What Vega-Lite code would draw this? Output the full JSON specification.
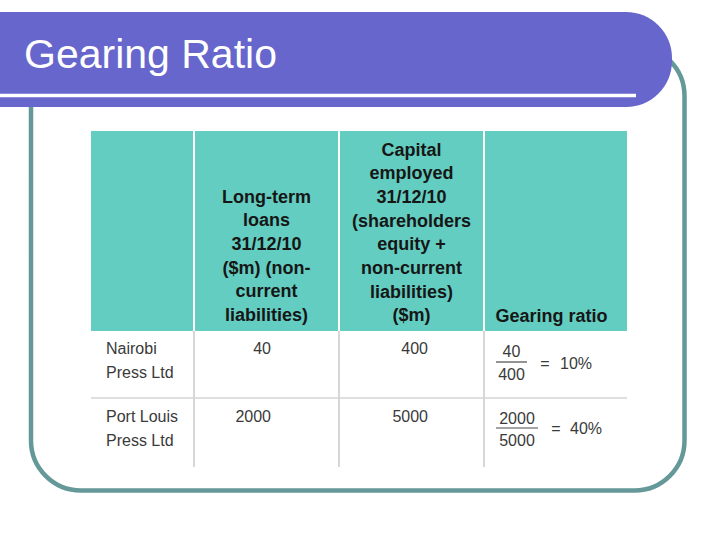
{
  "$schema": "https://vega.github.io/schema/vega-lite/v6.json",
  "width": 720,
  "height": 540,
  "autosize": {"type": "none"},
  "padding": 0,
  "background": "#ffffff",
  "config": {"view": {"stroke": null}},
  "datasets": {
    "companies": [
      {"company": "Nairobi Press Ltd", "label": "Nairobi\nPress Ltd", "loans": 40, "capital": 400, "gearing": 0.1},
      {"company": "Port Louis Press Ltd", "label": "Port Louis\nPress Ltd", "loans": 2000, "capital": 5000, "gearing": 0.4}
    ]
  },
  "resolve": {"scale": {"y": "independent"}},
  "layer": [
    {
      "data": {"values": [{}]},
      "layer": [
        {
          "mark": {"type": "rect", "fill": "#ffffff", "stroke": "#659898", "strokeWidth": 4.5, "cornerRadius": 50},
          "encoding": {
            "x": {"datum": 31, "type": "quantitative", "scale": {"domain": [0, 720], "nice": false, "zero": false}, "axis": null},
            "x2": {"datum": 684.5},
            "y": {"datum": 46, "type": "quantitative", "scale": {"domain": [0, 540], "reverse": true, "nice": false, "zero": false}, "axis": null},
            "y2": {"datum": 490.5}
          }
        },
        {
          "mark": {"type": "rect", "fill": "#6666cc", "cornerRadiusTopLeft": 0, "cornerRadiusBottomLeft": 0, "cornerRadiusTopRight": 46, "cornerRadiusBottomRight": 46},
          "encoding": {
            "x": {"datum": 0, "type": "quantitative", "axis": null},
            "x2": {"datum": 672},
            "y": {"datum": 12, "type": "quantitative", "axis": null},
            "y2": {"datum": 107}
          }
        },
        {
          "mark": {"type": "rule", "stroke": "#ffffff", "strokeWidth": 3.5},
          "encoding": {
            "x": {"datum": 0, "type": "quantitative", "axis": null},
            "x2": {"datum": 636},
            "y": {"datum": 95.5, "type": "quantitative", "axis": null}
          }
        },
        {
          "mark": {"type": "text", "align": "left", "baseline": "alphabetic", "font": "Liberation Sans", "fontSize": 41, "fill": "#ffffff"},
          "encoding": {
            "x": {"datum": 24, "type": "quantitative", "axis": null},
            "y": {"datum": 68, "type": "quantitative", "axis": null},
            "text": {"value": "Gearing Ratio"}
          }
        },
        {
          "mark": {"type": "rect", "fill": "#63cdc1"},
          "encoding": {
            "x": {"datum": 91, "type": "quantitative", "axis": null},
            "x2": {"datum": 627},
            "y": {"datum": 131, "type": "quantitative", "axis": null},
            "y2": {"datum": 331}
          }
        },
        {
          "mark": {"type": "rule", "stroke": "#ffffff", "strokeWidth": 2},
          "encoding": {"x": {"datum": 194, "type": "quantitative", "axis": null}, "y": {"datum": 131, "type": "quantitative", "axis": null}, "y2": {"datum": 331}}
        },
        {
          "mark": {"type": "rule", "stroke": "#ffffff", "strokeWidth": 2},
          "encoding": {"x": {"datum": 339, "type": "quantitative", "axis": null}, "y": {"datum": 131, "type": "quantitative", "axis": null}, "y2": {"datum": 331}}
        },
        {
          "mark": {"type": "rule", "stroke": "#ffffff", "strokeWidth": 2},
          "encoding": {"x": {"datum": 484, "type": "quantitative", "axis": null}, "y": {"datum": 131, "type": "quantitative", "axis": null}, "y2": {"datum": 331}}
        },
        {
          "mark": {"type": "rule", "stroke": "#cacaca", "strokeWidth": 1.5},
          "encoding": {"x": {"datum": 194, "type": "quantitative", "axis": null}, "y": {"datum": 331, "type": "quantitative", "axis": null}, "y2": {"datum": 467}}
        },
        {
          "mark": {"type": "rule", "stroke": "#cacaca", "strokeWidth": 1.5},
          "encoding": {"x": {"datum": 339, "type": "quantitative", "axis": null}, "y": {"datum": 331, "type": "quantitative", "axis": null}, "y2": {"datum": 467}}
        },
        {
          "mark": {"type": "rule", "stroke": "#cacaca", "strokeWidth": 1.5},
          "encoding": {"x": {"datum": 484, "type": "quantitative", "axis": null}, "y": {"datum": 331, "type": "quantitative", "axis": null}, "y2": {"datum": 467}}
        },
        {
          "mark": {"type": "rule", "stroke": "#d4d4d4", "strokeWidth": 1.5},
          "encoding": {"x": {"datum": 91, "type": "quantitative", "axis": null}, "x2": {"datum": 627}, "y": {"datum": 398, "type": "quantitative", "axis": null}}
        },
        {
          "mark": {"type": "text", "align": "center", "baseline": "alphabetic", "font": "Liberation Sans", "fontWeight": "bold", "fontSize": 18, "lineHeight": 23.7, "fill": "#161616"},
          "encoding": {
            "x": {"datum": 266.5, "type": "quantitative", "axis": null},
            "y": {"datum": 202.5, "type": "quantitative", "axis": null},
            "text": {"value": ["Long-term", "loans", "31/12/10", "($m) (non-", "current", "liabilities)"]}
          }
        },
        {
          "mark": {"type": "text", "align": "center", "baseline": "alphabetic", "font": "Liberation Sans", "fontWeight": "bold", "fontSize": 18, "lineHeight": 23.7, "fill": "#161616"},
          "encoding": {
            "x": {"datum": 411.5, "type": "quantitative", "axis": null},
            "y": {"datum": 155.5, "type": "quantitative", "axis": null},
            "text": {"value": ["Capital", "employed", "31/12/10", "(shareholders", "equity +", "non-current", "liabilities)", "($m)"]}
          }
        },
        {
          "mark": {"type": "text", "align": "center", "baseline": "alphabetic", "font": "Liberation Sans", "fontWeight": "bold", "fontSize": 18, "fill": "#161616"},
          "encoding": {
            "x": {"datum": 551.5, "type": "quantitative", "axis": null},
            "y": {"datum": 321.5, "type": "quantitative", "axis": null},
            "text": {"value": "Gearing ratio"}
          }
        }
      ]
    },
    {
      "data": {"name": "companies"},
      "encoding": {
        "y": {"field": "company", "type": "nominal", "scale": {"domain": ["Nairobi Press Ltd", "Port Louis Press Ltd"], "range": [331, 467], "paddingInner": 0, "paddingOuter": 0}, "axis": null}
      },
      "layer": [
        {
          "mark": {"type": "text", "align": "left", "baseline": "alphabetic", "dy": -11.5, "lineBreak": "\n", "lineHeight": 24, "font": "Liberation Sans", "fontSize": 16, "fill": "#3a3a3a"},
          "encoding": {"x": {"datum": 106, "type": "quantitative", "axis": null}, "text": {"field": "label", "type": "nominal"}}
        },
        {
          "mark": {"type": "text", "align": "right", "baseline": "alphabetic", "dy": -11.5, "font": "Liberation Sans", "fontSize": 16, "fill": "#3a3a3a"},
          "encoding": {"x": {"datum": 271, "type": "quantitative", "axis": null}, "text": {"field": "loans", "type": "quantitative", "format": "d"}}
        },
        {
          "mark": {"type": "text", "align": "right", "baseline": "alphabetic", "dy": -11.5, "font": "Liberation Sans", "fontSize": 16, "fill": "#3a3a3a"},
          "encoding": {"x": {"datum": 428, "type": "quantitative", "axis": null}, "text": {"field": "capital", "type": "quantitative", "format": "d"}}
        },
        {
          "transform": [{"filter": "datum.company == 'Nairobi Press Ltd'"}],
          "layer": [
            {
              "mark": {"type": "text", "align": "center", "baseline": "alphabetic", "dy": -8.5, "font": "Liberation Sans", "fontSize": 16, "fill": "#3a3a3a"},
              "encoding": {"x": {"datum": 511.5, "type": "quantitative", "axis": null}, "text": {"field": "loans", "type": "quantitative", "format": "d"}}
            },
            {
              "mark": {"type": "rule", "stroke": "#4a4a4a", "strokeWidth": 1.2, "yOffset": -3},
              "encoding": {"x": {"datum": 496, "type": "quantitative", "axis": null}, "x2": {"datum": 527}}
            },
            {
              "mark": {"type": "text", "align": "center", "baseline": "alphabetic", "dy": 15, "font": "Liberation Sans", "fontSize": 16, "fill": "#3a3a3a"},
              "encoding": {"x": {"datum": 511.5, "type": "quantitative", "axis": null}, "text": {"field": "capital", "type": "quantitative", "format": "d"}}
            },
            {
              "mark": {"type": "text", "align": "center", "baseline": "alphabetic", "dy": 4, "font": "Liberation Sans", "fontSize": 16, "fill": "#3a3a3a"},
              "encoding": {"x": {"datum": 545, "type": "quantitative", "axis": null}, "text": {"value": "="}}
            },
            {
              "mark": {"type": "text", "align": "left", "baseline": "alphabetic", "dy": 4, "font": "Liberation Sans", "fontSize": 16, "fill": "#3a3a3a"},
              "encoding": {"x": {"datum": 560, "type": "quantitative", "axis": null}, "text": {"field": "gearing", "type": "quantitative", "format": ".0%"}}
            }
          ]
        },
        {
          "transform": [{"filter": "datum.company == 'Port Louis Press Ltd'"}],
          "layer": [
            {
              "mark": {"type": "text", "align": "center", "baseline": "alphabetic", "dy": -9, "font": "Liberation Sans", "fontSize": 16, "fill": "#3a3a3a"},
              "encoding": {"x": {"datum": 517, "type": "quantitative", "axis": null}, "text": {"field": "loans", "type": "quantitative", "format": "d"}}
            },
            {
              "mark": {"type": "rule", "stroke": "#4a4a4a", "strokeWidth": 1.2, "yOffset": -5},
              "encoding": {"x": {"datum": 496, "type": "quantitative", "axis": null}, "x2": {"datum": 538}}
            },
            {
              "mark": {"type": "text", "align": "center", "baseline": "alphabetic", "dy": 13, "font": "Liberation Sans", "fontSize": 16, "fill": "#3a3a3a"},
              "encoding": {"x": {"datum": 517, "type": "quantitative", "axis": null}, "text": {"field": "capital", "type": "quantitative", "format": "d"}}
            },
            {
              "mark": {"type": "text", "align": "center", "baseline": "alphabetic", "dy": 1, "font": "Liberation Sans", "fontSize": 16, "fill": "#3a3a3a"},
              "encoding": {"x": {"datum": 556, "type": "quantitative", "axis": null}, "text": {"value": "="}}
            },
            {
              "mark": {"type": "text", "align": "left", "baseline": "alphabetic", "dy": 1, "font": "Liberation Sans", "fontSize": 16, "fill": "#3a3a3a"},
              "encoding": {"x": {"datum": 570, "type": "quantitative", "axis": null}, "text": {"field": "gearing", "type": "quantitative", "format": ".0%"}}
            }
          ]
        }
      ]
    }
  ]
}
